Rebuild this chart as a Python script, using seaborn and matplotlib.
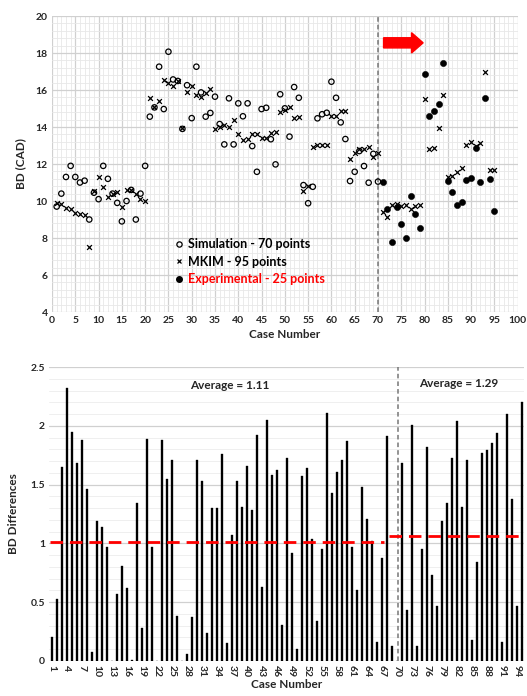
import numpy as np
import pandas as pd
import seaborn as sns
import matplotlib.pyplot as plt
from matplotlib.ticker import MultipleLocator
from matplotlib.lines import Line2D

# simulation - cases 1..70
sim_cases = list(range(1, 71))
sim_bd = [9.7, 10.4, 11.3, 11.9, 11.3, 11.0, 11.1, 9.0, 10.45, 10.1,
          11.9, 11.2, 10.4, 9.9, 8.9, 10.0, 10.6, 9.0, 10.4, 11.9,
          14.56, 15.06, 17.26, 14.97, 18.07, 16.57, 16.49, 13.9, 16.26, 14.48,
          17.26, 15.87, 14.56, 14.76, 15.64, 14.16, 13.06, 15.55, 13.06, 15.28,
          14.58, 15.28, 12.97, 11.58, 14.97, 15.04, 13.34, 11.98, 15.77, 15.01,
          13.48, 16.16, 15.58, 10.86, 9.88, 10.77, 14.47, 14.69, 14.77, 16.45,
          15.58, 14.25, 13.35, 11.08, 11.58, 12.7, 11.89, 10.99, 12.55, 11.05]

# MKIM - cases 1..95
mkim_cases = list(range(1, 96))
mkim_bd = [9.9, 9.85, 9.62, 9.57, 9.35, 9.32, 9.22, 7.53, 10.53, 11.29,
           10.76, 10.22, 10.4, 10.47, 9.7, 10.62, 10.6, 10.36, 10.12, 10.0,
           15.55, 15.06, 15.4, 16.52, 16.36, 16.2, 16.49, 13.95, 15.9, 16.19,
           15.73, 15.63, 15.86, 16.07, 13.9, 14.02, 14.12, 14.02, 14.37, 13.62,
           13.3, 13.36, 13.6, 13.62, 13.39, 13.42, 13.65, 13.71, 14.83, 14.93,
           15.06, 14.5, 14.52, 10.52, 10.83, 12.9, 13.03, 13.05, 13.05, 14.57,
           14.6, 14.85, 14.84, 12.28, 12.6, 12.82, 12.8, 12.9, 12.4, 12.6,
           9.42, 9.15, 9.78, 9.83, 9.71, 9.8, 9.55, 9.73, 9.76, 15.51,
           12.8, 12.85, 13.96, 15.73, 11.28, 11.35, 11.55, 11.77, 13.03, 13.2,
           13.0, 13.15, 16.95, 11.68, 11.68]

# experimental - cases 71..95
exp_cases = list(range(71, 96))
exp_bd = [11.05, 9.57, 7.77, 9.7, 8.76, 7.98, 10.27, 9.28, 8.56, 16.86,
          14.58, 14.86, 15.26, 17.46, 11.08, 10.5, 9.78, 9.96, 11.14, 11.23,
          12.85, 11.04, 15.55, 11.2, 9.46]

# BD differences per case
diff_cases = list(range(1, 96))
bd_diff = [0.20, 0.53, 1.65, 2.32, 1.95, 1.68, 1.88, 1.46, 0.08, 1.19,
           1.14, 0.97, 0.0, 0.57, 0.81, 0.62, 0.01, 1.34, 0.28, 1.89,
           0.97, 0.0, 1.88, 1.55, 1.71, 0.38, 0.0, 0.06, 0.37, 1.71,
           1.53, 0.24, 1.30, 1.30, 1.76, 0.15, 1.07, 1.53, 1.31, 1.66,
           1.28, 1.92, 0.63, 2.05, 1.58, 1.62, 0.31, 1.73, 0.92, 0.10,
           1.57, 1.64, 1.04, 0.34, 0.95, 2.11, 1.43, 1.61, 1.71, 1.87,
           0.97, 0.60, 1.48, 1.21, 1.02, 0.16, 0.88, 1.91, 0.13, 0.0,
           1.68, 0.43, 2.01, 0.13, 0.95, 1.82, 0.73, 0.47, 1.19, 1.34,
           1.73, 2.04, 1.31, 1.71, 0.18, 0.84, 1.77, 1.79, 1.85, 1.94,
           0.16, 2.10, 1.38, 0.47, 2.20]

avg_left = 1.01
avg_right = 1.06

sns.set_style("white")
plt.rcParams['font.family'] = ['Lato', 'DejaVu Sans']
plt.rcParams['font.weight'] = 'bold'

fig = plt.figure(figsize=(5.27, 6.96), dpi=100)

# ---------- top: BD vs case ----------
ax1 = fig.add_axes([0.0987, 0.5517, 0.8836, 0.4253])
ax1.set_xlim(0, 100)
ax1.set_ylim(4, 20)
ax1.xaxis.set_major_locator(MultipleLocator(5))
ax1.xaxis.set_minor_locator(MultipleLocator(1))
ax1.yaxis.set_major_locator(MultipleLocator(2))
ax1.yaxis.set_minor_locator(MultipleLocator(0.4))
ax1.grid(which='major', color='#d0d0d0', lw=0.9)
ax1.grid(which='minor', color='#e8e8e8', lw=0.6)
ax1.set_axisbelow(True)

sns.scatterplot(x=sim_cases, y=sim_bd, ax=ax1, marker='o', s=15,
                facecolor='none', edgecolor='black', linewidth=0.9, zorder=3)
sns.scatterplot(x=mkim_cases, y=mkim_bd, ax=ax1, marker='x', s=12,
                color='black', linewidth=0.9, zorder=4)
sns.scatterplot(x=exp_cases, y=exp_bd, ax=ax1, marker='o', s=20,
                color='black', edgecolor='black', zorder=5)

ax1.axvline(70, color='#777777', ls='--', lw=1.1, dashes=(3, 2), zorder=2)
ax1.arrow(71.2, 18.55, 6.0, 0, width=0.55, head_width=1.1, head_length=2.5,
          color='#ff0000', zorder=6)

handles = [Line2D([], [], marker='o', ls='none', mfc='none', mec='black', ms=3.8, mew=0.9),
           Line2D([], [], marker='x', ls='none', color='black', ms=3.5, mew=0.9),
           Line2D([], [], marker='o', ls='none', color='black', ms=4)]
ax1.legend(handles, ['Simulation - 70 points', 'MKIM - 95 points', 'Experimental - 25 points'],
           loc='center left', bbox_to_anchor=(0.235, 0.17), frameon=False,
           labelcolor=['black', 'black', '#ff0000'], handletextpad=0.2,
           handlelength=1.0, labelspacing=0.45, prop={'weight': 'bold', 'size': 9})

for s in ax1.spines.values():
    s.set_visible(False)
ax1.tick_params(length=0, labelsize=7.5, pad=3)
ax1.set_xlabel('Case Number', fontsize=8.5, fontweight='bold', labelpad=3)
ax1.set_ylabel('BD (CAD)', fontsize=8.5, fontweight='bold', labelpad=7)

# ---------- bottom: BD differences ----------
ax2 = fig.add_axes([0.0934, 0.0503, 0.9013, 0.4224])
df = pd.DataFrame({'case': diff_cases, 'diff': bd_diff})
sns.barplot(data=df, x='case', y='diff', ax=ax2, color='black', width=0.36,
            saturation=1, edgecolor='black', linewidth=0.25, zorder=3)
ax2.set_xlim(-0.5, 94.5)
ax2.set_ylim(0, 2.5)
ax2.yaxis.set_major_locator(MultipleLocator(0.5))
ax2.yaxis.set_minor_locator(MultipleLocator(0.1))
ax2.grid(which='major', axis='y', color='#d0d0d0', lw=0.9)
ax2.grid(which='minor', axis='y', color='#ececec', lw=0.6)
ax2.set_axisbelow(True)
ax2.set_yticks([0, 0.5, 1, 1.5, 2, 2.5], ['0', '0.5', '1', '1.5', '2', '2.5'])
ax2.set_xticks(range(0, 95, 3), [str(c) for c in diff_cases[::3]], rotation=270)

ax2.axvline(69.2, color='#777777', ls='--', lw=1.1, dashes=(3, 2), zorder=4)
ax2.plot([-0.4, 66.5], [avg_left, avg_left], color='#ff0000', lw=2, dashes=(4.5, 2.5), zorder=5)
ax2.plot([67.5, 94.5], [avg_right, avg_right], color='#ff0000', lw=2, dashes=(4.5, 2.5), zorder=5)
ax2.text(35.7, 2.34, 'Average = 1.11', ha='center', va='center', fontsize=8.5, fontweight='bold')
ax2.text(81.3, 2.36, 'Average = 1.29', ha='center', va='center', fontsize=8.5, fontweight='bold')

for s in ax2.spines.values():
    s.set_visible(False)
ax2.tick_params(length=0, labelsize=7.5, pad=3)
ax2.set_xlabel('Case Number', fontsize=8.5, fontweight='bold', labelpad=1)
ax2.set_ylabel('BD Differences', fontsize=8.5, fontweight='bold', labelpad=8)

fig.savefig('out.png', dpi=100)
